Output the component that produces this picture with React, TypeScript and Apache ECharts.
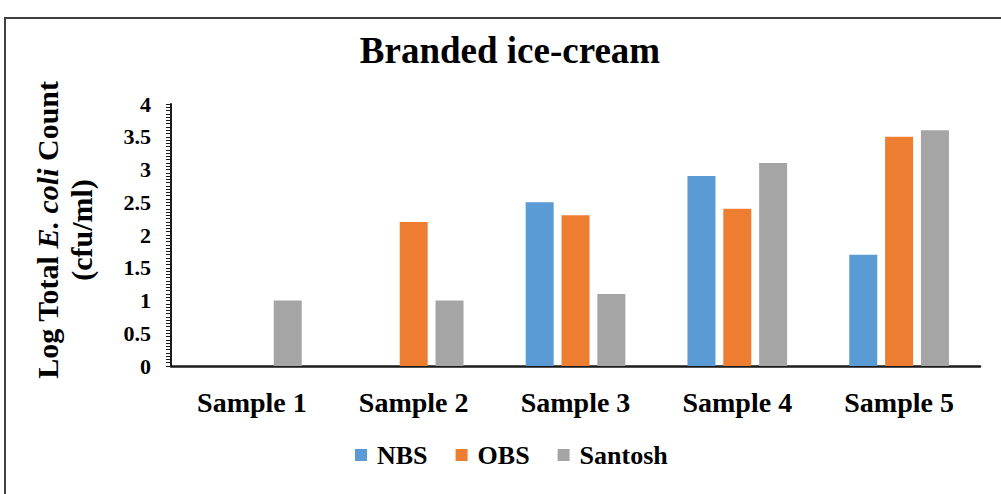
import React, { useEffect, useRef } from "react";
import * as echarts from "echarts";

const categories = ["Sample 1", "Sample 2", "Sample 3", "Sample 4", "Sample 5"];
const nbs = [0, 0, 2.5, 2.9, 1.7];
const obs = [0, 2.2, 2.3, 2.4, 3.5];
const santosh = [1.0, 1.0, 1.1, 3.1, 3.6];
const seriesNames = ["NBS", "OBS", "Santosh"];
const colors = ["#5B9BD5", "#ED7D31", "#A5A5A5"];
const titleText = "Branded ice-cream";

const FONT = "'Liberation Serif', 'Times New Roman', serif";

export default function App() {
  const ref = useRef<HTMLDivElement>(null);
  useEffect(() => {
    if (!ref.current) return;
    const chart = echarts.init(ref.current, null, { renderer: "svg" });
    const values = [nbs, obs, santosh];
    chart.setOption({
      animation: false,
      backgroundColor: "#ffffff",
      graphic: [
        {
          type: "rect",
          shape: { x: 5, y: 18, width: 1100, height: 600 },
          style: { fill: "none", stroke: "#404040", lineWidth: 2 },
          silent: true,
        },
        {
          type: "text",
          x: 510,
          y: 50,
          style: {
            text: titleText,
            fontFamily: FONT,
            fontWeight: "bold",
            fontSize: 37,
            fill: "#000",
            textAlign: "center",
            textVerticalAlign: "middle",
          },
        },
      ],
      legend: {
        data: seriesNames,
        left: 355,
        top: 442,
        padding: 0,
        icon: "rect",
        itemWidth: 12,
        itemHeight: 12,
        itemGap: 28,
        textStyle: {
          fontFamily: FONT,
          fontWeight: "bold",
          fontSize: 26,
          color: "#000",
          padding: [0, 0, 0, 5],
        },
      },
      grid: { left: 171, right: 21, top: 104, bottom: 128, containLabel: false },
      xAxis: {
        type: "category",
        data: categories,
        axisLine: { show: true, lineStyle: { color: "#1a1a1a", width: 2.5 } },
        axisTick: { show: false },
        axisLabel: {
          fontFamily: FONT,
          fontWeight: "bold",
          fontSize: 28,
          color: "#000",
          margin: 22,
        },
      },
      yAxis: {
        type: "value",
        min: 0,
        max: 4,
        interval: 0.5,
        splitLine: { show: false },
        axisLine: { show: true, lineStyle: { color: "#1a1a1a", width: 2 } },
        axisTick: { show: true, length: 5, lineStyle: { color: "#1a1a1a", width: 1 } },
        minorTick: { show: true, splitNumber: 10, length: 5, lineStyle: { color: "#1a1a1a", width: 1 } },
        axisLabel: {
          fontFamily: FONT,
          fontWeight: "bold",
          fontSize: 22,
          color: "#000",
          margin: 20,
        },
        name: "Log Total {i|E. coli} Count\n(cfu/ml)",
        nameLocation: "middle",
        nameRotate: 90,
        nameGap: 73,
        nameTextStyle: {
          fontFamily: FONT,
          fontWeight: "bold",
          fontSize: 30,
          color: "#000",
          lineHeight: 34,
          padding: [0, 0, 0, 10],
          rich: {
            i: {
              fontFamily: FONT,
              fontWeight: "bold",
              fontStyle: "italic",
              fontSize: 30,
              color: "#000",
              lineHeight: 34,
            },
          },
        },
      },
      series: seriesNames.map((name, i) => ({
        name,
        type: "bar",
        data: values[i],
        barWidth: 28,
        barGap: "28%",
        itemStyle: { color: colors[i], borderWidth: 0 },
      })),
    });
    return () => chart.dispose();
  }, []);
  return (
    <div
      ref={ref}
      style={{ position: "absolute", left: 0, top: 0, width: 1001, height: 494 }}
    />
  );
}
